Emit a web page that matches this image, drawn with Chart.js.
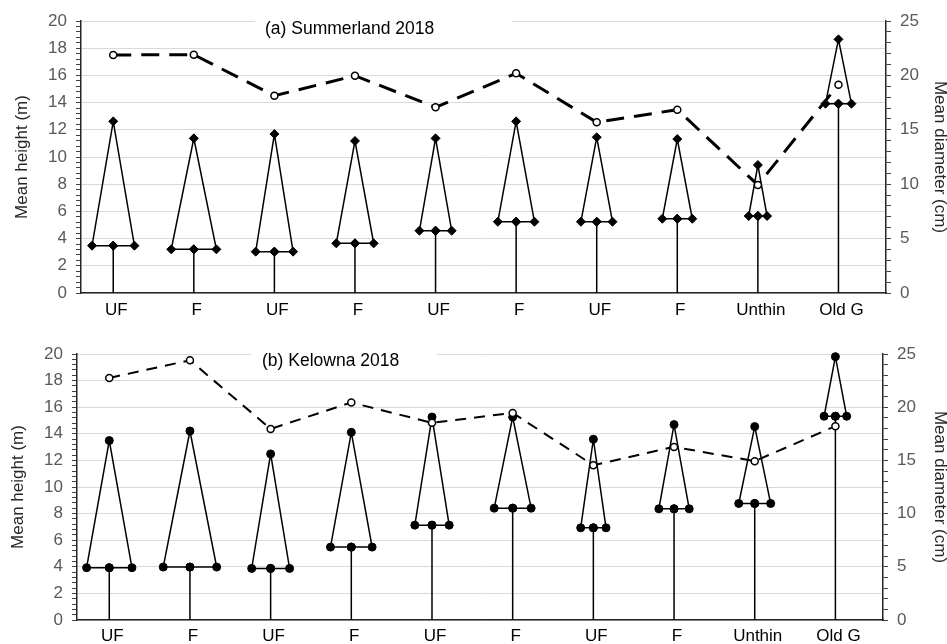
<!DOCTYPE html>
<html lang="en">
<head>
<meta charset="UTF-8">
<title>Mean height and diameter - Summerland and Kelowna 2018</title>
<script src="https://cdn.jsdelivr.net/npm/chart.js"></script>
<style>
  html, body { margin: 0; padding: 0; background: #fff; }
  canvas { position: absolute; left: 0; }
</style>
</head>
<body>
<canvas id="summerland" width="947" height="322" style="top:0"></canvas>
<canvas id="kelowna" width="947" height="322" style="top:322px"></canvas>

<script>
// categories (treatments)
const categories = ['UF', 'F', 'UF', 'F', 'UF', 'F', 'UF', 'F', 'Unthin', 'Old G'];

// (a) Summerland 2018
const sumTreeHeight = [12.62, 11.37, 11.69, 11.18, 11.37, 12.62, 11.45, 11.32, 9.41, 18.65];
const sumCrownBase = [3.48, 3.21, 3.04, 3.65, 4.58, 5.24, 5.24, 5.46, 5.66, 13.92];
const sumDiameter = [21.88, 21.9, 18.13, 19.97, 17.07, 20.19, 15.69, 16.85, 9.93, 19.15];
// crown half width, in category units
const sumCrownHalf = [0.263, 0.28, 0.232, 0.232, 0.2, 0.227, 0.196, 0.186, 0.114, 0.161];

// (b) Kelowna 2018
const kelTreeHeight = [13.49, 14.21, 12.49, 14.11, 15.26, 15.26, 13.59, 14.69, 14.54, 19.8];
const kelCrownBase = [3.93, 3.98, 3.88, 5.48, 7.13, 8.41, 6.93, 8.36, 8.76, 15.32];
const kelDiameter = [22.75, 24.41, 17.96, 20.44, 18.53, 19.46, 14.55, 16.27, 14.93, 18.22];
const kelCrownHalf = [0.281, 0.331, 0.235, 0.258, 0.213, 0.229, 0.157, 0.188, 0.198, 0.14];

// axis ticks
const heightTicks = { max: 20, major: 2, minor: 0.4 };
const diameterTicks = { max: 25, major: 5, minor: 1 };

const FONT = '"Liberation Sans", Arial, sans-serif';

function isMajor(v, step) {
    return Math.abs(v / step - Math.round(v / step)) < 1e-6;
}

function tickList(t) {
    const out = [];
    const n = Math.round(t.max / t.minor);
    for (let k = 0; k <= n; k++) out.push({ value: Math.round(k * t.minor * 100) / 100 });
    return out;
}

const panelTitle = {
    id: 'panelTitle',
    beforeDatasetsDraw(chart, args, opts) {
        const ctx = chart.ctx;
        ctx.save();
        ctx.fillStyle = '#fff';
        ctx.fillRect(opts.box[0], opts.box[1], opts.box[2], opts.box[3]);
        ctx.font = '17.5px ' + FONT;
        ctx.fillStyle = '#000';
        ctx.textBaseline = 'middle';
        ctx.fillText(opts.text, opts.x, opts.y);
        ctx.restore();
    }
};

function treeDataset(i, top, base, half, mark) {
    const c = i + 1;
    return {
        data: [
            { x: c, y: 0 },
            { x: c, y: base },
            { x: c - half, y: base },
            { x: c, y: top },
            { x: c + half, y: base },
            { x: c, y: base }
        ],
        yAxisID: 'y',
        showLine: true,
        borderColor: '#000',
        borderWidth: 1.5,
        pointStyle: mark.style,
        pointRadius: ctx => ctx.dataIndex === 0 ? 0 : mark.radius,
        pointBackgroundColor: '#000',
        pointBorderColor: '#000',
        pointBorderWidth: 1,
        clip: false
    };
}

function makePanel(id, p) {
    const datasets = [{
        data: p.diameter.map((d, i) => ({ x: i + 1, y: d })),
        yAxisID: 'y2',
        showLine: true,
        borderColor: '#000',
        borderWidth: p.dashWidth,
        borderDash: p.dash,
        pointStyle: 'circle',
        pointRadius: 3.5,
        pointBackgroundColor: '#fff',
        pointBorderColor: '#000',
        pointBorderWidth: 1.5,
        clip: false
    }];
    categories.forEach((_, i) => {
        datasets.push(treeDataset(i, p.height[i], p.base[i], p.half[i], p.mark));
    });

    new Chart(document.getElementById(id), {
        type: 'scatter',
        data: { datasets },
        plugins: [panelTitle],
        options: {
            responsive: false,
            animation: false,
            events: [],
            layout: { padding: { top: p.padTop, left: 0, right: 0, bottom: 0 } },
            plugins: {
                legend: { display: false },
                tooltip: { enabled: false },
                panelTitle: p.title
            },
            scales: {
                x: {
                    type: 'linear',
                    min: 0.6,
                    max: 10.59,
                    afterBuildTicks: s => { s.ticks = categories.map((_, i) => ({ value: i + 1 })); },
                    afterFit: s => { s.height = p.xHeight; },
                    ticks: {
                        callback: (v, i) => categories[i],
                        autoSkip: false,
                        maxRotation: 0,
                        padding: p.xPad,
                        labelOffset: 3,
                        color: '#000',
                        font: { family: FONT, size: 17 }
                    },
                    grid: { display: false, drawTicks: false },
                    border: { color: '#262626', width: 1.5 }
                },
                y: {
                    position: 'left',
                    min: 0,
                    max: heightTicks.max,
                    afterBuildTicks: s => { s.ticks = tickList(heightTicks); },
                    afterFit: s => { s.width = p.leftWidth; },
                    ticks: {
                        callback: v => isMajor(v, heightTicks.major) ? String(v) : '',
                        autoSkip: false,
                        padding: 9,
                        color: '#595959',
                        font: { family: FONT, size: 17 }
                    },
                    grid: {
                        color: ctx => isMajor(ctx.tick.value, heightTicks.major) ? '#d9d9d9' : 'rgba(0,0,0,0)',
                        tickColor: '#404040',
                        tickLength: 5,
                        lineWidth: 1
                    },
                    border: { color: '#262626', width: 1.5 },
                    title: {
                        display: true,
                        text: 'Mean height (m)',
                        color: '#262626',
                        font: { family: FONT, size: 17, lineHeight: 1 },
                        padding: { top: p.leftTitlePad, bottom: 0 }
                    }
                },
                y2: {
                    position: 'right',
                    min: 0,
                    max: diameterTicks.max,
                    afterBuildTicks: s => { s.ticks = tickList(diameterTicks); },
                    afterFit: s => { s.width = p.rightWidth; },
                    ticks: {
                        callback: v => isMajor(v, diameterTicks.major) ? String(v) : '',
                        autoSkip: false,
                        padding: 9,
                        color: '#595959',
                        font: { family: FONT, size: 17 }
                    },
                    grid: {
                        drawOnChartArea: false,
                        tickColor: '#404040',
                        tickLength: 5
                    },
                    border: { color: '#262626', width: 1.5 },
                    title: {
                        display: true,
                        text: 'Mean diameter (cm)',
                        color: '#262626',
                        font: { family: FONT, size: 17, lineHeight: 1 },
                        padding: { top: -1, bottom: 0 }
                    }
                }
            }
        }
    });
}

makePanel('summerland', {
    height: sumTreeHeight, base: sumCrownBase, diameter: sumDiameter, half: sumCrownHalf,
    mark: { style: 'rectRot', radius: 4.5 },
    dash: [18, 10], dashWidth: 3,
    padTop: 21, xHeight: 29, xPad: 7, leftWidth: 81, rightWidth: 61, leftTitlePad: 13.5,
    title: { text: '(a) Summerland 2018', x: 265, y: 29, box: [255, 14, 257, 30] }
});

makePanel('kelowna', {
    height: kelTreeHeight, base: kelCrownBase, diameter: kelDiameter, half: kelCrownHalf,
    mark: { style: 'circle', radius: 4 },
    dash: [11, 8], dashWidth: 2,
    padTop: 32, xHeight: 24, xPad: 6, leftWidth: 77, rightWidth: 64, leftTitlePad: 9.5,
    title: { text: '(b) Kelowna 2018', x: 262, y: 39, box: [251, 25, 186, 27] }
});
</script>
</body>
</html>
